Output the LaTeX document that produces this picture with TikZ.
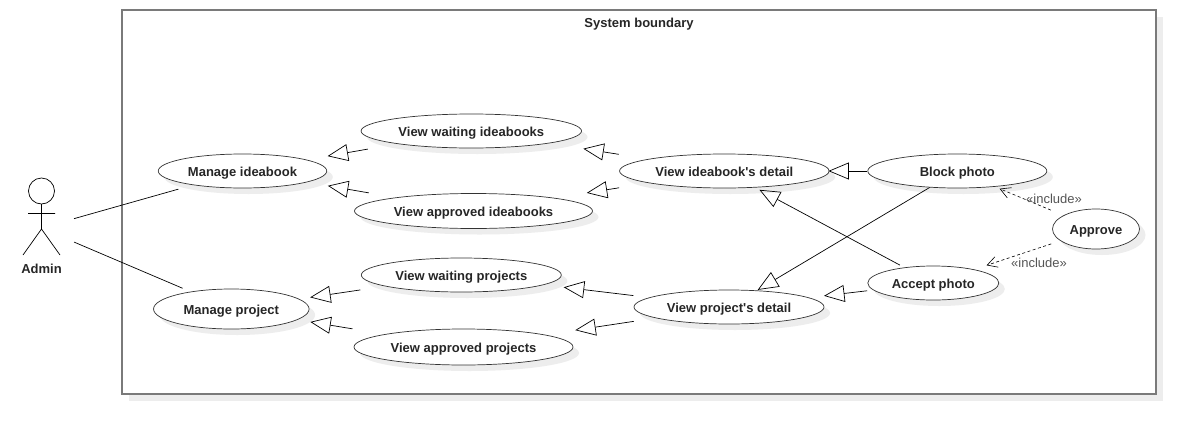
\documentclass[tikz,border=0pt]{standalone}
\usepackage{fontspec}
\setmainfont{Liberation Sans}
\usetikzlibrary{arrows.meta,shapes.geometric,shadows}
\definecolor{shadowgray}{HTML}{EDEDED}
\definecolor{framegray}{HTML}{7A7A7A}
\definecolor{notegray}{HTML}{555555}
\tikzset{
  usecase/.style={ellipse,draw=black!80,line width=0.7pt,fill=white,inner sep=0pt,
    font=\fontsize{13}{15}\selectfont\bfseries,text=black!85,text height=10pt,text depth=0pt,
    drop shadow={shadow xshift=6pt,shadow yshift=-6pt,fill=shadowgray,opacity=1}},
  boundary/.style={rectangle,draw=framegray,line width=1.5pt,fill=white,inner sep=0pt,
    drop shadow={shadow xshift=7pt,shadow yshift=-7pt,fill=shadowgray,opacity=1}},
  extends/.style={-{Triangle[open,length=20.5pt,width=17pt]},line width=0.7pt},
  includes/.style={-{Straight Barb[length=10pt,width=11pt]},dashed,dash pattern=on 3pt off 2.5pt,line width=0.6pt},
  assoc/.style={line width=0.7pt},
  bold label/.style={font=\fontsize{13}{15}\selectfont\bfseries,text=black!85,text height=10pt,text depth=0pt},
  note label/.style={font=\fontsize{13}{15}\selectfont,text=notegray,text height=10pt,text depth=0pt}
}
\begin{document}
\begin{tikzpicture}[x=1pt,y=-1pt]
\useasboundingbox (0,0) rectangle (1196,434);
\node[boundary,minimum width=1034pt,minimum height=384pt] (system) at (639,202) {};
\node[bold label] (systemtitle) at (639,22) {System boundary};

% actor
\draw[line width=0.7pt]
  (41.5,191) circle (13)
  (41.5,204) -- (41.5,229)
  (28,213.5) -- (55,213.5)
  (23,255) -- (41.5,229) -- (60,255);
\coordinate (admin) at (41,228);
\node[bold label] (adminlabel) at (41.5,268) {Admin};

% use cases
\node[usecase,minimum width=168.5pt,minimum height=34pt] (manageidea) at (242.5,171) {Manage ideabook};
\node[usecase,minimum width=155.5pt,minimum height=40pt] (manageproj) at (231.3,309) {Manage project};
\node[usecase,minimum width=220.5pt,minimum height=34pt] (waitidea) at (471.3,131) {View waiting ideabooks};
\node[usecase,minimum width=238pt,minimum height=35pt] (approvedidea) at (473.5,211) {View approved ideabooks};
\node[usecase,minimum width=200pt,minimum height=34pt] (waitproj) at (461.3,275) {View waiting projects};
\node[usecase,minimum width=219pt,minimum height=36pt] (approvedproj) at (463.5,347) {View approved projects};
\node[usecase,minimum width=209.5pt,minimum height=34pt] (ideadetail) at (724.3,171) {View ideabook\textquotesingle s detail};
\node[usecase,minimum width=190pt,minimum height=34pt] (projdetail) at (729,307) {View project\textquotesingle s detail};
\node[usecase,minimum width=179pt,minimum height=34pt] (blockphoto) at (957.3,171) {Block photo};
\node[usecase,minimum width=131pt,minimum height=34pt] (acceptphoto) at (933.3,283) {Accept photo};
\node[usecase,minimum width=87pt,minimum height=40pt] (approve) at (1096,229) {Approve};

% connectors
\draw[assoc,shorten <=34.3pt,shorten >=15pt] (admin) -- (manageidea);
\draw[assoc,shorten <=36pt,shorten >=8.7pt] (admin) -- (manageproj);
\draw[extends,shorten <=30pt,shorten >=21pt] (waitidea) -- (manageidea);
\draw[extends,shorten <=27pt,shorten >=21pt] (approvedidea) -- (manageidea);
\draw[extends,shorten <=25pt,shorten >=11pt] (waitproj) -- (manageproj);
\draw[extends,shorten <=33pt,shorten >=13pt] (approvedproj) -- (manageproj);
\draw[extends,shorten <=30pt,shorten >=34.5pt] (ideadetail) -- (waitidea);
\draw[extends,shorten <=30pt,shorten >=32pt] (ideadetail) -- (approvedidea);
\draw[extends,shorten <=16pt,shorten >=20pt] (projdetail) -- (waitproj);
\draw[extends,shorten <=22pt,shorten >=30.5pt] (projdetail) -- (approvedproj);
\draw[extends,shorten >=-1pt] (blockphoto) -- (ideadetail);
\draw[extends,shorten <=5pt,shorten >=4.7pt] (acceptphoto) -- (ideadetail);
\draw[extends,shorten >=1pt] (blockphoto) -- (projdetail);
\draw[extends,shorten <=6pt,shorten >=15pt] (acceptphoto) -- (projdetail);
\draw[includes,shorten <=13.6pt,shorten >=5pt] (approve) -- (blockphoto);
\draw[includes,shorten <=9.6pt,shorten >=13pt] (approve) -- (acceptphoto);
\node[note label] (includeblock) at (1054,198) {«include»};
\node[note label] (includeaccept) at (1039,262) {«include»};
\end{tikzpicture}
\end{document}
